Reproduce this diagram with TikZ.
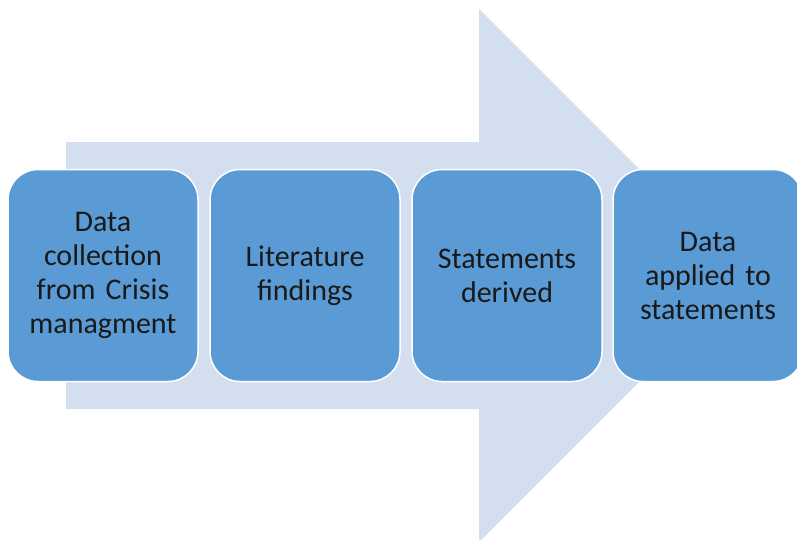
\documentclass[tikz,border=0pt]{standalone}
\usepackage{fontspec}
\setmainfont{Carlito}
\definecolor{arrowfill}{HTML}{D3DEEF}
\definecolor{stepfill}{HTML}{5B9BD5}
\begin{document}
\begin{tikzpicture}[x=1pt,y=-1pt,
  stepbox/.style={draw=white, line width=1.5pt, fill=stepfill,
    rounded corners=30pt, minimum width=190pt, minimum height=212pt,
    inner sep=0pt, text width=186pt, align=center,
    font=\fontsize{30}{34}\selectfont, text=black!90, anchor=center}]
  \useasboundingbox (0,0) rectangle (797,539);
  \fill[white] (0,0) rectangle (797,539);
  \begin{scope}
    \clip (0,0) rectangle (797,539);
    % broad process arrow behind the steps
    \fill[arrowfill] (66,142) -- (479,142) -- (479,9) -- (745.5,275.5)
      -- (479,542) -- (479,409) -- (66,409) -- cycle;
    % the four steps
    \node[stepbox] (s1) at (103,275.5) {Data\\collection\\from Crisis\\managment};
    \node[stepbox] (s2) at (305,275.5) {Literature\\findings};
    \node[stepbox] (s3) at (507,275.5) {Statements\\derived};
    \node[stepbox] (s4) at (708,275.5) {Data\\applied to\\statements};
  \end{scope}
\end{tikzpicture}
\end{document}
